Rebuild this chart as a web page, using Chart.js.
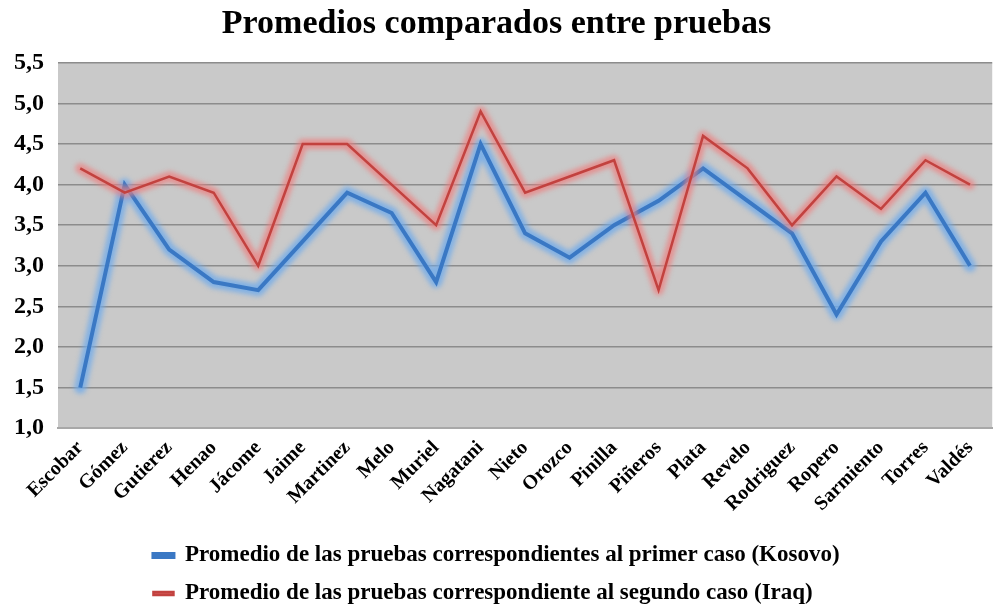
<!DOCTYPE html>
<html>
<head>
<meta charset="utf-8">
<script src="https://cdn.jsdelivr.net/npm/chart.js@4/dist/chart.umd.min.js"></script>
<style>
html,body{margin:0;padding:0;background:#fff;overflow:hidden;}
#c{display:block;}
</style>
</head>
<body>
<canvas id="c" width="995" height="610" style="width:995px;height:610px"></canvas>
<script>
const categories = ["Escobar","Gómez","Gutierez","Henao","Jácome","Jaime","Martinez","Melo","Muriel","Nagatani","Nieto","Orozco","Pinilla","Piñeros","Plata","Revelo","Rodriguez","Ropero","Sarmiento","Torres","Valdés"];
const kosovo = [1.5,4.0,3.2,2.8,2.7,3.3,3.9,3.65,2.8,4.5,3.4,3.1,3.5,3.8,4.2,3.8,3.4,2.4,3.3,3.9,3.0];
const iraq = [4.2,3.9,4.1,3.9,3.0,4.5,4.5,4.0,3.5,4.9,3.9,4.1,4.3,2.7,4.6,4.2,3.5,4.1,3.7,4.3,4.0];
const yTicks = [1.0,1.5,2.0,2.5,3.0,3.5,4.0,4.5,5.0,5.5];
const seriesNames = ["Promedio de las pruebas correspondientes al primer caso (Kosovo)","Promedio de las pruebas correspondiente al segundo caso (Iraq)"];

const SERIF = "'Liberation Serif','Times New Roman',serif";
const glowColors = ['rgba(110,170,235,0.8)','rgba(238,125,125,0.75)'];

const bgPlugin = {
  id:'plotBg',
  beforeDraw(chart){
    const {ctx, chartArea:a} = chart;
    ctx.save();
    ctx.fillStyle = '#c9c9c9';
    ctx.fillRect(a.left, a.top, a.right-a.left, a.bottom-a.top);
    ctx.restore();
    const lg = chart.legend;
    if (lg && lg.lineWidths && lg.lineWidths.length) {
      const m = Math.max(...lg.lineWidths);
      lg.lineWidths = lg.lineWidths.map(()=>m);
      if (!lg._shifted) { lg.top += 5; lg.bottom += 5; lg._shifted = true; }
    }
  },
  beforeDatasetDraw(chart, args){
    const ctx = chart.ctx;
    const pts = args.meta.data;
    ctx.save();
    ctx.filter = 'blur(2.5px)';
    ctx.strokeStyle = glowColors[args.index];
    ctx.lineWidth = args.index === 0 ? 12 : 10;
    ctx.lineJoin = 'round';
    ctx.lineCap = 'round';
    ctx.beginPath();
    pts.forEach((p,i)=>{ if(i===0) ctx.moveTo(p.x,p.y); else ctx.lineTo(p.x,p.y); });
    ctx.stroke();
    ctx.restore();
  }
};

new Chart(document.getElementById('c'), {
  type:'line',
  data:{
    labels:categories,
    datasets:[
      {label:seriesNames[0], data:kosovo, borderColor:'#3a78c4', backgroundColor:'#4a86cc', borderWidth:4, pointRadius:0, tension:0, order:2},
      {label:seriesNames[1], data:iraq, borderColor:'#c2423f', backgroundColor:'#d65a58', borderWidth:2.5, pointRadius:0, tension:0, order:1}
    ]
  },
  options:{
    responsive:false,
    maintainAspectRatio:false,
    animation:false,
    devicePixelRatio:1,
    layout:{padding:{left:0,right:2,top:0,bottom:0}},
    plugins:{
      title:{display:true, text:'Promedios comparados entre pruebas', color:'#000',
        font:{family:SERIF, size:34, weight:'bold'}, padding:{top:4,bottom:18}},
      legend:{position:'bottom', align:'center',
        labels:{color:'#000', font:{family:SERIF, size:23, weight:'bold'}, boxWidth:20, boxHeight:3, padding:15,
          sort:(a,b)=>a.datasetIndex-b.datasetIndex}},
      tooltip:{enabled:false}
    },
    scales:{
      x:{
        offset:true,
        grid:{display:false, drawTicks:false},
        border:{color:'#a8a8a8', width:2},
        ticks:{color:'#000', maxRotation:45, minRotation:45, autoSkip:false, padding:8,
          font:{family:SERIF, size:20, weight:'bold'}}
      },
      y:{
        min:1, max:5.5,
        afterBuildTicks(axis){ axis.ticks = yTicks.map(v=>({value:v})); },
        grid:{color:'#8c8c8c', lineWidth:1.5, drawTicks:false},
        border:{display:false},
        ticks:{color:'#000', padding:14, font:{family:SERIF, size:24, weight:'bold'},
          callback:(v)=>Number(v).toFixed(1).replace('.',',')}
      }
    }
  },
  plugins:[bgPlugin]
});
</script>
</body>
</html>
